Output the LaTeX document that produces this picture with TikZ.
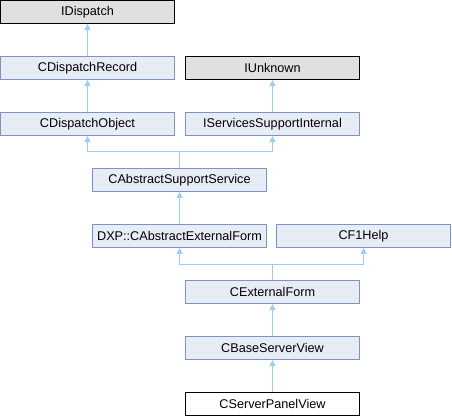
\documentclass[tikz,border=0pt]{standalone}
\usepackage{fontspec}
\setmainfont{Liberation Sans}
\usetikzlibrary{arrows.meta}
\definecolor{nodefill}{HTML}{E8ECF5}
\definecolor{nodeborder}{HTML}{7B93C8}
\definecolor{edgecol}{HTML}{9DCEEB}
\definecolor{extfill}{HTML}{E0E0E0}
\begin{document}
\begin{tikzpicture}[x=0.75pt,y=-0.75pt,
  cls/.style={draw=nodeborder, fill=nodefill, line width=0.75pt, minimum width=130.5pt, minimum height=17pt, inner sep=0pt, font=\fontsize{9.5}{11}\selectfont},
  extcls/.style={cls, draw=black, fill=extfill},
  maincls/.style={cls, draw=black, fill=white},
  inh/.style={draw=edgecol, line width=0.75pt, {Triangle[width=4.5pt,length=4.5pt,fill=edgecol]}-}]
\useasboundingbox (0,0) rectangle (452,416);
\node[extcls]  (idisp) at (87.5,12)  {IDispatch};
\node[cls]     (cdr)   at (87.5,68)  {CDispatchRecord};
\node[cls]     (cdo)   at (87.5,124) {CDispatchObject};
\node[extcls]  (iunk)  at (272.5,68) {IUnknown};
\node[cls]     (issi)  at (272.5,124){IServicesSupportInternal};
\node[cls]     (cass)  at (179.5,180){CAbstractSupportService};
\node[cls]     (dxp)   at (179.5,236){DXP::CAbstractExternalForm};
\node[cls]     (cf1)   at (363.5,236){CF1Help};
\node[cls]     (cef)   at (272.5,292){CExternalForm};
\node[cls]     (cbsv)  at (272.5,348){CBaseServerView};
\node[maincls] (cspv)  at (272.5,404){CServerPanelView};
\coordinate (j1) at (179.5,152);
\coordinate (j2) at (272.5,264);
\draw[inh] (idisp.south) -- (cdr.north);
\draw[inh] (cdr.south) -- (cdo.north);
\draw[inh] (iunk.south) -- (issi.north);
\draw[inh] (cdo.south) |- (j1) -- (cass.north);
\draw[inh] (issi.south) |- (j1);
\draw[inh] (cass.south) -- (dxp.north);
\draw[inh] (dxp.south) |- (j2) -- (cef.north);
\draw[inh] (cf1.south) |- (j2);
\draw[inh] (cef.south) -- (cbsv.north);
\draw[inh] (cbsv.south) -- (cspv.north);
\end{tikzpicture}
\end{document}
